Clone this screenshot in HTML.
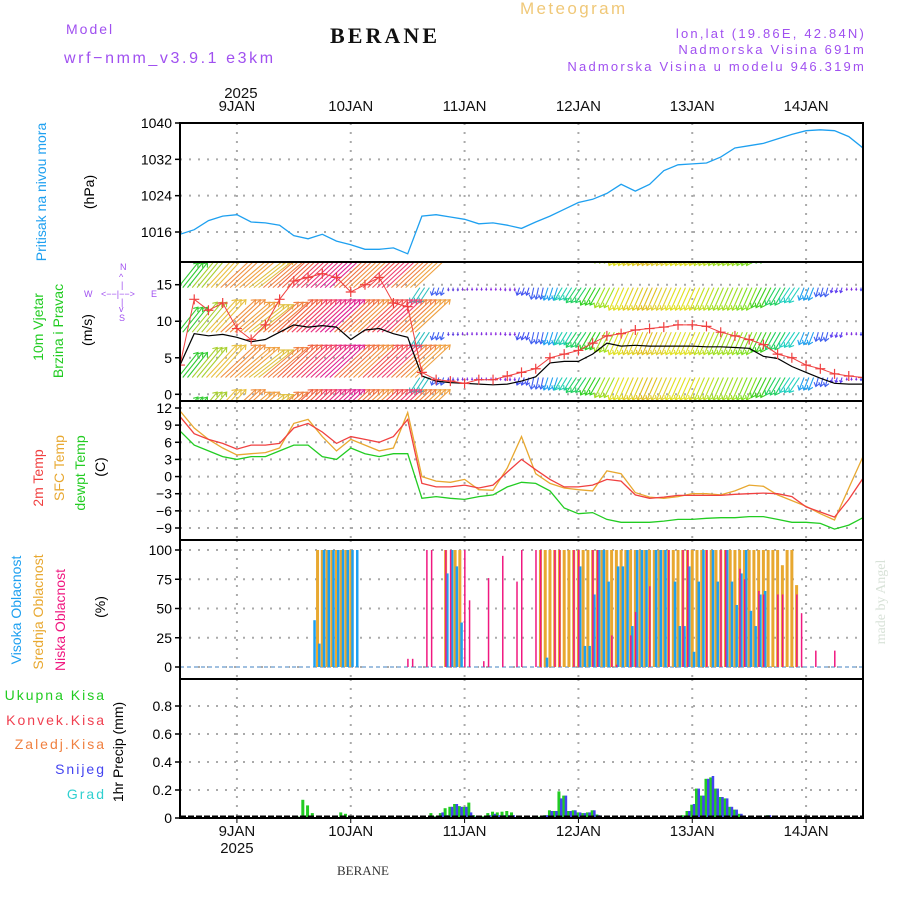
<!DOCTYPE html>
<html><head><meta charset="utf-8"><style>
html,body{margin:0;padding:0;background:#fff;}
svg{display:block;}
text{font-family:"Liberation Sans",sans-serif;}
.mono{letter-spacing:2px;}
</style></head><body>
<svg id="chart" width="900" height="900" viewBox="0 0 900 900" xmlns="http://www.w3.org/2000/svg">
<g id="titles">
<text x="66" y="34" font-size="14" fill="#a050f0" class="mono">Model</text>
<text x="64" y="63" font-size="16" fill="#a050f0" style="letter-spacing:2.6px">wrf−nmm_v3.9.1 e3km</text>
<text x="330" y="43" font-size="22" font-weight="bold" fill="#111" style="font-family:'Liberation Serif',serif" textLength="107">BERANE</text>
<text x="520" y="14" font-size="17" fill="#f0c878" style="letter-spacing:2.4px">Meteogram</text>
<text x="866" y="38" font-size="13" fill="#a050f0" text-anchor="end" style="letter-spacing:2.2px">lon,lat (19.86E, 42.84N)</text>
<text x="866" y="54" font-size="13" fill="#a050f0" text-anchor="end" style="letter-spacing:2.2px">Nadmorska Visina 691m</text>
<text x="866" y="71" font-size="13" fill="#a050f0" text-anchor="end" style="letter-spacing:2.2px">Nadmorska Visina u modelu 946.319m</text>
<text x="363" y="875" font-size="13" text-anchor="middle" fill="#333" style="font-family:'Liberation Serif',serif">BERANE</text>
<text transform="translate(885,602) rotate(-90)" font-size="14" text-anchor="middle" fill="#d8e2d8" style="font-family:'Liberation Serif',serif">made by Angel</text>
</g>
<g id="labels">
<text transform="translate(46,192) rotate(-90)" font-size="14" text-anchor="middle" fill="#1ea0f0">Pritisak na nivou mora</text>
<text transform="translate(94,192) rotate(-90)" font-size="14" text-anchor="middle" fill="#000">(hPa)</text>
<text transform="translate(43,327) rotate(-90)" font-size="14" text-anchor="middle" fill="#22cc22">10m Vjetar</text>
<text transform="translate(63,331) rotate(-90)" font-size="14" text-anchor="middle" fill="#22cc22">Brzina i Pravac</text>
<text transform="translate(92,330) rotate(-90)" font-size="14" text-anchor="middle" fill="#000">(m/s)</text>
<g font-size="9" fill="#a050f0">
<text x="120" y="270">N</text><text x="119" y="280">^</text><text x="121" y="288">|</text>
<text x="84" y="297">W</text><text x="101" y="297">&lt;−−|−−&gt;</text><text x="151" y="297">E</text>
<text x="121" y="305">|</text><text x="119" y="312">v</text><text x="119" y="321">S</text></g>
<text transform="translate(43,478) rotate(-90)" font-size="14" text-anchor="middle" fill="#f04040">2m Temp</text>
<text transform="translate(64,468) rotate(-90)" font-size="14" text-anchor="middle" fill="#e8a830">SFC Temp</text>
<text transform="translate(85,473) rotate(-90)" font-size="14" text-anchor="middle" fill="#22cc22">dewpt Temp</text>
<text transform="translate(105,467) rotate(-90)" font-size="14" text-anchor="middle" fill="#000">(C)</text>
<text transform="translate(21,610) rotate(-90)" font-size="14" text-anchor="middle" fill="#1ea0f0">Visoka Oblacnost</text>
<text transform="translate(43,612) rotate(-90)" font-size="14" text-anchor="middle" fill="#e8a830">Srednja Oblacnost</text>
<text transform="translate(65,620) rotate(-90)" font-size="14" text-anchor="middle" fill="#f01880">Niska Oblacnost</text>
<text transform="translate(105,607) rotate(-90)" font-size="14" text-anchor="middle" fill="#000">(%)</text>
<g font-size="14" text-anchor="end" class="mono">
<text x="106" y="700" fill="#22cc22">Ukupna Kisa</text>
<text x="106" y="725" fill="#f04050">Konvek.Kisa</text>
<text x="106" y="749" fill="#f08040">Zaledj.Kisa</text>
<text x="106" y="774" fill="#4444f0">Snijeg</text>
<text x="106" y="799" fill="#30d0d0">Grad</text></g>
<text transform="translate(123,752) rotate(-90)" font-size="14" text-anchor="middle" fill="#000">1hr Precip (mm)</text>
</g>
<g id="plot"></g>
</svg>
<script>
const NS="http://www.w3.org/2000/svg";
// 3-hourly data, hours from 9JAN 00Z: -12..132
const hours3=[-12,-9,-6,-3,0,3,6,9,12,15,18,21,24,27,30,33,36,39,42,45,48,51,54,57,60,63,66,69,72,75,78,81,84,87,90,93,96,99,102,105,108,111,114,117,120,123,126,129,132];
const pressure=[1015.5,1016.5,1018.5,1019.5,1019.8,1018.2,1018,1017.5,1015.2,1014.5,1015.5,1014,1013.2,1012.2,1012.2,1012.5,1011.2,1019.5,1019.8,1019.3,1018.8,1017.8,1018,1017.5,1016.8,1018.2,1019.5,1021,1022.5,1023.2,1024.5,1026.5,1025,1026.5,1029.5,1030.8,1031,1031.2,1032.5,1034.5,1035,1035.5,1036.5,1037.5,1038.3,1038.5,1038.3,1037,1034.5];
const windSpeed=[4,8.3,8,8.2,7.8,7.2,7.5,8.5,9.5,9.2,9.4,9.2,7.5,8.8,9,8.3,7.8,2.5,1.8,1.6,1.5,1.4,1.3,1.4,1.8,2.4,4.3,4.5,4.5,5.5,7,6.6,6.7,6.6,6.6,6.6,6.6,6.5,6.5,6.4,6.3,5.2,4.9,3.8,3,2.2,1.5,1.4,1.4];
const windGust=[4,13,11.5,12.5,9,7.5,9.5,13,15.5,16,16.5,16,14,15,16,12.5,12,3,2,1.8,1.5,2,2,2.5,3,3.5,5,5.5,6,7,8,8.3,8.8,9,9.2,9.5,9.5,9.3,8.5,8,7.5,6.8,5.5,5,4,3.5,2.8,2.5,2.3];
const windU=[4,5,6,7,7,7,7,7,7,7,7,7,7,7,7,7,7,-2,-0.5,0,0,0,0,0,-0.5,-0.5,-0.8,-1.5,-2,-2,-2,-2,-2,-2,-2,-2,-2,-2,-2,-2,-2,-2,-2,-2,-1,-0.5,-0.3,0,0];
const windV=[5,6,6.5,6.5,6,5.5,6,6.5,6.5,6.5,6.5,6.5,6.5,6.5,6.5,6.5,6.5,-3,-1.5,-0.6,-0.5,-0.5,-0.5,-0.6,-1.5,-2.3,-2.5,-2.5,-3,-3.5,-4,-4.5,-4.5,-4.5,-4.5,-4.5,-4.5,-4.5,-4.5,-4.5,-4.5,-4,-3.5,-3,-2.5,-1.8,-1,-0.5,-0.6];
const windColor=["#33cc33","#a8d030","#e8c040","#f09040","#f0a040","#e0c040","#f08040","#f06040","#f04060","#e83080","#e02090","#f07040","#f09040","#f05050","#f04070","#f08040","#f0a040","#30c0c0","#4060f0","#6040e0","#8030e0","#8030e0","#9030e0","#8030e0","#4050f0","#4060f0","#20a0f0","#20d0b0","#20d060","#30d020","#a0e020","#e0e020","#e0d020","#e0c020","#e0d030","#e0e020","#e0e020","#c0e020","#a0e020","#a0e020","#80e020","#40d020","#20d060","#20d0c0","#20a0f0","#4060f0","#6040f0","#8030e0","#4040f0"];
const windRows=[20.7,14.6,8.5,2.3,-3.8];
const temp2m=[10.5,7.5,6.5,5.8,4.8,5.5,5.5,5.8,8.5,9.3,7.8,5.8,7,6.5,6,7,10,-1.2,-1.8,-1.8,-1.5,-2,-1.5,0.8,3,1.2,-0.5,-1.8,-1.8,-1.5,-0.5,-0.8,-3.2,-3.8,-3.6,-3.3,-3.3,-3.3,-3.3,-3.1,-3,-2.9,-3,-3.5,-5.3,-6.2,-7.1,-4,-0.3];
const tempSfc=[11.5,8.5,6.5,5,3.8,4,4.2,5,9.3,10,7,4.5,6.5,5.5,4.5,5,11.2,0,-0.8,-1,-0.5,-2.3,-2.4,1.5,7,0.5,-1.2,-2,-2.3,-2.5,1,0.5,-2.8,-3.6,-3.8,-3.5,-3,-3,-3.2,-2.5,-1.5,-1.7,-3.2,-4.2,-5.2,-6.5,-7.6,-2,3.5];
const dewpoint=[8,5.5,4.5,3.5,3,3.5,3.5,4.5,5.5,5.5,3.5,3,5,4,3.5,4,4,-3.8,-3.5,-3.8,-4,-3.5,-3.2,-1.8,-1,-1.2,-2.5,-5.5,-6.5,-6.3,-7.5,-8,-8,-8,-7.8,-7.5,-7.5,-7.3,-7.2,-7.2,-7,-7,-7.5,-8,-8,-8.2,-9.2,-8.5,-7.2];
// hourly cloud data: hour index from 8JAN 12Z
const highHours=[28,29,30,31,32,33,34,35,36,37,56,57,58,59,77,84,85,86,87,88,89,90,92,93,94,95,96,97,98,100,101,102,104,105,106,107,108,109,110,112,113,115,116,117,118,119,120,121,122,123];
const highVals=[40,20,100,100,100,100,100,100,100,100,80,100,86,38,8,86,18,18,62,100,100,73,86,86,100,35,100,100,100,100,100,100,73,35,35,86,13,73,100,100,73,100,73,53,80,100,48,35,62,65];
const midHours=[29,30,31,32,33,34,35,36,56,58,59,76,77,78,79,80,81,82,83,84,85,86,87,88,89,90,91,92,93,94,95,96,97,98,99,100,101,102,103,104,105,106,107,108,109,110,111,112,113,114,115,116,117,118,119,120,121,122,123,124,125,126,127,128,129,130];
const midVals=[100,100,100,100,100,100,100,100,100,100,100,100,100,100,100,100,100,100,100,100,100,100,100,100,100,100,100,100,100,100,100,100,100,100,100,100,100,100,100,100,100,100,100,100,100,100,100,100,100,100,100,100,100,100,100,100,100,100,100,100,100,100,87,100,100,70];
const lowHours=[48,49,52,53,56,57,60,61,64,65,68,71,72,75,76,79,80,83,84,87,88,91,92,95,96,99,103,106,107,111,114,115,118,119,122,123,126,127,130,131,134,138];
const lowVals=[7,7,100,100,100,100,100,57,5,76,95,73,100,100,100,100,100,100,100,100,100,27,2,27,47,69,100,100,100,100,100,100,84,75,65,62,62,62,62,46,14,14];
const precipHours=[25,26,27,28,34,35,53,54,55,56,57,58,59,60,61,62,63,64,65,66,67,68,69,70,71,73,74,76,77,78,79,80,81,82,83,84,85,86,87,88,90,100,106,107,108,109,110,111,112,113,114,115,116,117,118,119,120,124];
const precipTotal=[0.01,0.13,0.09,0.035,0.04,0.03,0.035,0.012,0.035,0.07,0.08,0.1,0.085,0.08,0.11,0.02,0.012,0.012,0.035,0.045,0.04,0.045,0.05,0.04,0.005,0.005,0.005,0.01,0.02,0.055,0.05,0.19,0.16,0.05,0.055,0.04,0.035,0.04,0.055,0.025,0.005,0.005,0.02,0.05,0.095,0.21,0.16,0.28,0.29,0.21,0.15,0.14,0.08,0.06,0.03,0.005,0.005,0.02];
const precipSnow=[0,0,0,0,0,0,0.01,0.01,0.04,0.02,0.08,0.1,0.08,0.08,0.04,0.01,0.01,0.01,0.02,0.03,0.02,0.02,0.02,0.02,0,0,0.005,0.01,0.02,0.05,0.05,0.14,0.16,0.05,0.055,0.04,0.035,0.04,0.055,0.02,0,0,0.01,0.05,0.1,0.21,0.16,0.28,0.3,0.21,0.15,0.14,0.08,0.06,0.03,0.005,0.005,0.02];
const dayLabels=["9JAN","10JAN","11JAN","12JAN","13JAN","14JAN"];
const pTicks=[1016,1024,1032,1040];
const wTicks=[0,5,10,15];
const tTicks=[12,9,6,3,0,-3,-6,-9];
const cTicks=[0,25,50,75,100];
const rTicks=[0,0.2,0.4,0.6,0.8];

const X0=180,X1=863,H0=-12,H1=132;
const xH=h=>X0+(h-H0)*(X1-X0)/(H1-H0);
const xI=i=>xH(i-12);
function lin(d0,d1,r0,r1){return v=>r0+(v-d0)*(r1-r0)/(d1-d0);}
const panels=[
 {name:"pressure",top:123,bot:262,y:lin(1040,1016,123,232),ticks:pTicks,fmt:v=>v},
 {name:"wind",top:262,bot:401,y:lin(0,15,394.3,284.7),ticks:wTicks,fmt:v=>v},
 {name:"temperature",top:401,bot:540,y:lin(12,-9,408,528),ticks:tTicks,fmt:v=>v<0?"−"+(-v):v},
 {name:"cloud",top:540,bot:679,y:lin(0,100,667,550),ticks:cTicks,fmt:v=>v},
 {name:"precip",top:679,bot:818,y:lin(0,0.8,818,706),ticks:rTicks,fmt:v=>v===0?"0":v.toFixed(1)}
];
const plot=document.getElementById("plot");
function mk(tag,attrs,parent){const e=document.createElementNS(NS,tag);for(const k in attrs)e.setAttribute(k,attrs[k]);(parent||plot).appendChild(e);return e;}
const defs=mk("defs",{});
panels.forEach((p,pi)=>{
 const cp=mk("clipPath",{id:"clip"+pi},defs);
 mk("rect",{x:X0,y:p.top,width:X1-X0,height:p.bot-p.top},cp);
 const g=mk("g",{});
 
 
 p.g=g;
 dayLabels.forEach((d,i)=>{const x=xH(i*24);
  const l=mk("line",{x1:x,x2:x,y1:p.top,y2:p.bot,stroke:"#aaa","stroke-width":2,"stroke-dasharray":"2,7"},g);
  
  });
 p.ticks.forEach(t=>{const y=p.y(t);
  if(y>p.top+2&&y<p.bot-2){const l=mk("line",{x1:X0,x2:X1,y1:y,y2:y,stroke:"#aaa","stroke-width":2,"stroke-dasharray":"2,7"},g);
  
  }
  mk("line",{x1:X0-5,x2:X0,y1:y,y2:y,stroke:"#000","stroke-width":1.5},g);
  const tx=mk("text",{x:X0-8,y:y+5,"font-size":14,"text-anchor":"end",fill:"#000"},g);
  tx.textContent=p.fmt(t);
  
  });
 p.cg=mk("g",{"clip-path":"url(#clip"+pi+")"},g);
});
function line(p,vals,color,name,w){
 const pts=vals.map((v,i)=>xH(hours3[i]).toFixed(1)+","+p.y(v).toFixed(1)).join(" ");
 const l=mk("polyline",{points:pts,fill:"none",stroke:color,"stroke-width":w||1.3},p.cg);
 
 
}
line(panels[0],pressure,"#1ea0f0","pressure-line");
const pw=panels[1];
windRows.forEach(r=>{
 hours3.forEach((h,i)=>{
  for(let s=0;s<3;s++){
   const x=xH(h+s)-2, y=pw.y(r);
   const dx=windU[i]*5, dy=-windV[i]*5;
   const a=mk("g",{stroke:windColor[i],"stroke-width":1.1,fill:"none"},pw.cg);
   
   
   mk("line",{x1:x,y1:y,x2:x+dx,y2:y+dy},a);
   const L=Math.hypot(dx,dy)||1, ux=dx/L, uy=dy/L, hl=Math.min(5,L*0.5);
   mk("polyline",{points:`${x+dx-hl*(ux*0.8-uy*0.6)},${y+dy-hl*(uy*0.8+ux*0.6)} ${x+dx},${y+dy} ${x+dx-hl*(ux*0.8+uy*0.6)},${y+dy-hl*(uy*0.8-ux*0.6)}`},a);
  }
 });
});
line(pw,windSpeed,"#000","wind-speed-line",1.2);
line(pw,windGust,"#f04040","wind-gust-line",1);
windGust.forEach((v,i)=>{const x=xH(hours3[i]),y=pw.y(v);
 const c=mk("path",{d:`M${x-5},${y}h10M${x},${y-5}v10`,stroke:"#f04040","stroke-width":1.2},pw.cg);
 
 });
const pt=panels[2];
line(pt,tempSfc,"#e8a830","sfc-temp-line");
line(pt,temp2m,"#f04040","t2m-line");
line(pt,dewpoint,"#22cc22","dewpoint-line");
const pc=panels[3];
function bars(p,hrs,vals,color,off,w,name){
 hrs.forEach((h,i)=>{const x=xI(h)+off,y=p.y(vals[i]),y0=p.y(0);
  const b=mk("rect",{x:x,y:Math.min(y,y0),width:w,height:Math.abs(y0-y),fill:color},p.cg);
  
  });
}
mk("line",{x1:X0,x2:X1,y1:pc.y(0),y2:pc.y(0),stroke:"#a0c0e0","stroke-width":2,"stroke-dasharray":"4,3"},pc.cg);
bars(pc,midHours,midVals,"#e8a830",-1.5,3,"mid-cloud-bar");
bars(pc,highHours,highVals,"#1ea0f0",0.5,2.5,"high-cloud-bar");
bars(pc,lowHours,lowVals,"#f01880",-0.5,1.5,"low-cloud-bar");
const pr=panels[4];
bars(pr,precipHours,precipTotal,"#22cc22",-2,3,"total-precip-bar");
bars(pr,precipHours,precipSnow,"#4444f0",0.5,2.5,"snow-bar");
mk("line",{x1:X0,x2:X1,y1:817,y2:817,stroke:"#000","stroke-width":3,"stroke-dasharray":"6,2"},pr.g);
panels.forEach(p=>{const r=mk("rect",{x:X0,y:p.top,width:X1-X0,height:p.bot-p.top,fill:"none",stroke:"#000","stroke-width":2},p.g);
 
 });
dayLabels.forEach((d,i)=>{const x=xH(i*24);
 mk("line",{x1:x,x2:x,y1:818,y2:823,stroke:"#000"});
 const t=mk("text",{x:x,y:111,"font-size":15,"text-anchor":"middle",fill:"#111"});t.textContent=d;
 
 
 const b=mk("text",{x:x,y:836,"font-size":15,"text-anchor":"middle",fill:"#111"});b.textContent=d;
 
 });
const y1=mk("text",{x:xH(0)+4,y:98,"font-size":15,"text-anchor":"middle",fill:"#111"});y1.textContent="2025";


const y2=mk("text",{x:xH(0),y:853,"font-size":15,"text-anchor":"middle",fill:"#111"});y2.textContent="2025";


</script>
</body></html>
